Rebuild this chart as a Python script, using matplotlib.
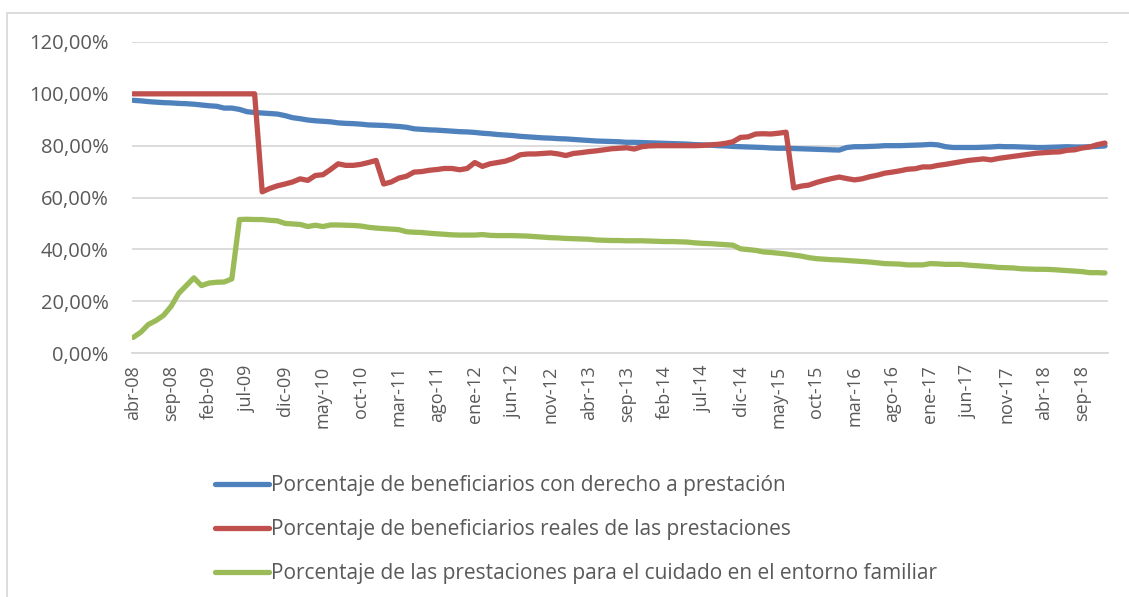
import matplotlib.pyplot as plt
from matplotlib.patches import Rectangle
from matplotlib.ticker import FuncFormatter

# monthly data, abr-08 .. dic-18
meses = ['ene', 'feb', 'mar', 'abr', 'may', 'jun', 'jul', 'ago', 'sep', 'oct', 'nov', 'dic']
fechas = []
for k in range(129):
    m = (3 + k) % 12
    a = 8 + (3 + k) // 12
    fechas.append(meses[m] + '-' + str(a).zfill(2))

derecho = [97.5, 97.3, 97.0, 96.8, 96.6, 96.5, 96.3, 96.2, 96.0, 95.7,
           95.4, 95.2, 94.5, 94.5, 94.0, 93.1, 92.8, 92.6, 92.4, 92.2,
           91.6, 90.8, 90.4, 89.9, 89.6, 89.4, 89.2, 88.8, 88.6, 88.5,
           88.3, 88.0, 87.9, 87.8, 87.6, 87.4, 87.1, 86.5, 86.3, 86.1,
           86.0, 85.8, 85.6, 85.4, 85.3, 85.1, 84.8, 84.6, 84.3, 84.1,
           83.9, 83.6, 83.4, 83.2, 83.0, 82.9, 82.7, 82.6, 82.4, 82.2,
           82.0, 81.8, 81.7, 81.6, 81.5, 81.3, 81.3, 81.2, 81.1, 81.0,
           80.9, 80.8, 80.7, 80.6, 80.4, 80.3, 80.2, 80.0, 79.9, 79.7,
           79.6, 79.5, 79.4, 79.3, 79.1, 79.0, 79.0, 78.9, 78.8, 78.7,
           78.6, 78.5, 78.4, 78.3, 79.3, 79.6, 79.6, 79.7, 79.8, 80.0,
           80.0, 80.0, 80.1, 80.2, 80.3, 80.5, 80.3, 79.6, 79.3, 79.3,
           79.3, 79.3, 79.4, 79.5, 79.7, 79.6, 79.6, 79.5, 79.4, 79.3,
           79.3, 79.4, 79.5, 79.6, 79.5, 79.5, 79.6, 79.7, 79.9]

reales = [100.0] * 17 + [
          62.2, 63.5, 64.5, 65.2, 66.0, 67.2, 66.6, 68.5, 68.8, 70.8,
          73.0, 72.4, 72.4, 72.8, 73.5, 74.3, 65.2, 66.0, 67.5, 68.2,
          69.8, 70.0, 70.5, 70.8, 71.2, 71.2, 70.7, 71.2, 73.5, 72.0,
          73.0, 73.5, 74.0, 75.0, 76.5, 76.8, 76.8, 77.0, 77.2, 76.8,
          76.2, 77.0, 77.3, 77.7, 78.0, 78.4, 78.8, 79.0, 79.2, 78.7,
          79.6, 79.9, 80.0, 80.0, 80.0, 80.0, 80.0, 80.0, 80.1, 80.3,
          80.5, 80.9, 81.5, 83.2, 83.4, 84.5, 84.6, 84.5, 84.8, 85.2,
          63.7, 64.4, 64.8, 65.8, 66.6, 67.3, 67.9, 67.3, 66.8, 67.2,
          68.0, 68.6, 69.4, 69.8, 70.3, 70.9, 71.1, 71.8, 71.8, 72.4,
          72.8, 73.3, 73.8, 74.3, 74.6, 74.9, 74.5, 75.1, 75.5, 75.9,
          76.3, 76.7, 77.1, 77.3, 77.5, 77.6, 78.2, 78.4, 79.1, 79.5,
          80.4, 81.0]

entorno = [6.0, 8.0, 11.0, 12.5, 14.5, 18.0, 23.0, 26.0, 29.0, 26.0,
           27.0, 27.3, 27.4, 28.6, 51.5, 51.6, 51.5, 51.5, 51.2, 51.0,
           50.0, 49.8, 49.6, 48.8, 49.3, 48.8, 49.4, 49.4, 49.3, 49.2,
           49.0, 48.5, 48.2, 48.0, 47.8, 47.6, 46.8, 46.6, 46.5, 46.2,
           46.0, 45.8, 45.6, 45.5, 45.5, 45.5, 45.7, 45.4, 45.3, 45.3,
           45.3, 45.2, 45.1, 44.9, 44.7, 44.5, 44.4, 44.2, 44.1, 44.0,
           43.9, 43.6, 43.5, 43.4, 43.4, 43.3, 43.3, 43.3, 43.2, 43.1,
           43.0, 43.0, 42.9, 42.8, 42.5, 42.3, 42.2, 42.0, 41.8, 41.6,
           40.2, 39.9, 39.6, 39.0, 38.8, 38.5, 38.2, 37.8, 37.4, 36.8,
           36.4, 36.2, 36.0, 35.9, 35.7, 35.5, 35.3, 35.1, 34.8, 34.5,
           34.4, 34.3, 34.0, 34.0, 34.0, 34.5, 34.4, 34.2, 34.2, 34.2,
           33.9, 33.7, 33.5, 33.3, 33.0, 32.9, 32.8, 32.5, 32.4, 32.3,
           32.3, 32.2, 32.0, 31.8, 31.6, 31.4, 31.0, 31.0, 30.9]

nombres = ['Porcentaje de beneficiarios con derecho a prestación',
           'Porcentaje de beneficiarios reales de las prestaciones',
           'Porcentaje de las prestaciones para el cuidado en el entorno familiar']
colores = ['#4F81BD', '#C0504D', '#9BBB59']

plt.rcParams['font.family'] = ['Open Sans', 'DejaVu Sans']
gris = '#595959'

fig = plt.figure(figsize=(11.29, 5.97), dpi=100)
ax = fig.add_axes([132 / 1129, 1 - 353 / 597, (1108 - 132) / 1129, (353 - 42) / 597])

x = list(range(len(fechas)))
lineas = []
for serie, nombre, color in zip([derecho, reales, entorno], nombres, colores):
    l, = ax.plot(x, serie, color=color, lw=3.8, label=nombre, solid_capstyle='round')
    lineas.append(l)

ax.set_ylim(0, 120)
ax.set_yticks(range(0, 121, 20))
ax.yaxis.set_major_formatter(FuncFormatter(lambda v, p: ('%.2f%%' % v).replace('.', ',')))
ax.set_xlim(-0.15, 128.4)
ax.set_xticks(x[::5])
ax.set_xticklabels(fechas[::5], rotation=90)
ax.grid(axis='y', color='#D9D9D9', lw=1.3)
ax.set_axisbelow(True)
for s in ['top', 'right', 'left']:
    ax.spines[s].set_visible(False)
ax.spines['bottom'].set_color('#D9D9D9')
ax.spines['bottom'].set_linewidth(1.3)
ax.tick_params(axis='both', length=0, colors=gris)
ax.tick_params(axis='y', pad=17, labelsize=14.5)
ax.tick_params(axis='x', pad=9, labelsize=13)

fig.legend(handles=lineas, loc='upper left', bbox_to_anchor=(205 / 1129, 1 - 465 / 597),
           frameon=False, fontsize=15, labelcolor=gris, handlelength=2.55,
           handletextpad=0.1, labelspacing=1.1, borderpad=0)

fig.patches.append(Rectangle((7 / 1129, -0.1), 1.2, 1 - 13 / 597 + 0.1, transform=fig.transFigure,
                             fill=False, edgecolor='#D9D9D9', lw=1.3))

fig.savefig('out.png', dpi=100)
